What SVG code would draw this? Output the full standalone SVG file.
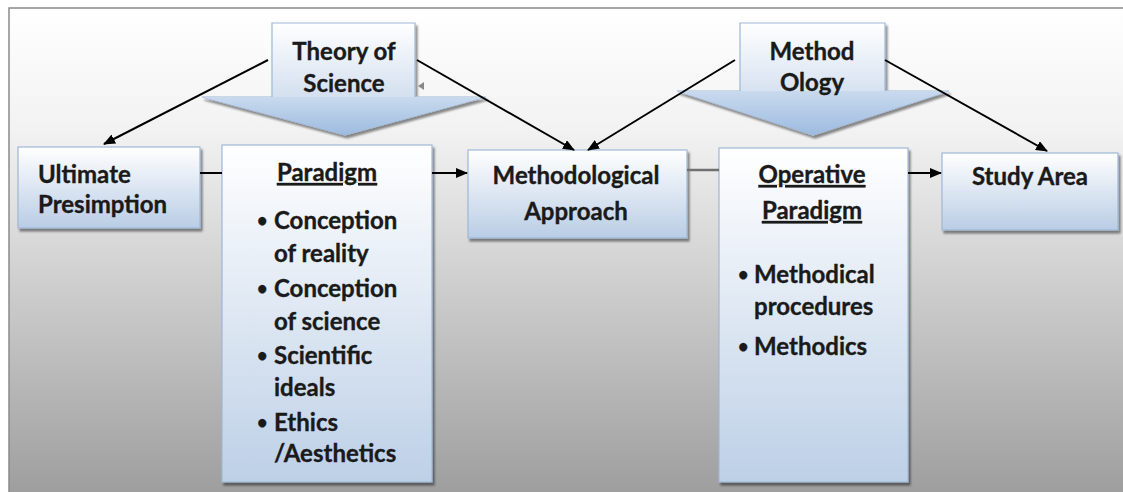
<svg xmlns="http://www.w3.org/2000/svg" width="1123" height="492" viewBox="0 0 1123 492">
<defs>
<linearGradient id="bg" x1="0" y1="0" x2="0" y2="1">
<stop offset="0" stop-color="#ffffff"/>
<stop offset="0.25" stop-color="#f2f2f2"/>
<stop offset="0.6" stop-color="#cacaca"/>
<stop offset="1" stop-color="#9d9d9d"/>
</linearGradient>
<linearGradient id="box" x1="0" y1="0" x2="0" y2="1">
<stop offset="0" stop-color="#ffffff"/>
<stop offset="1" stop-color="#b9cde5"/>
</linearGradient>
<linearGradient id="tall" x1="0" y1="0" x2="0" y2="1">
<stop offset="0" stop-color="#ffffff"/>
<stop offset="1" stop-color="#bdd0e7"/>
</linearGradient>
<linearGradient id="chev" x1="0" y1="0" x2="0" y2="1">
<stop offset="0" stop-color="#c9daee"/>
<stop offset="1" stop-color="#9dbbe0"/>
</linearGradient>
<marker id="ah" markerWidth="12" markerHeight="10" refX="11" refY="5" orient="auto" markerUnits="userSpaceOnUse">
<path d="M0,0 L12,5 L0,10 Z" fill="#000"/>
</marker>
<filter id="sh" x="-10%" y="-10%" width="130%" height="130%">
<feGaussianBlur in="SourceAlpha" stdDeviation="1.2"/>
<feOffset dx="2" dy="3" result="o"/>
<feComponentTransfer><feFuncA type="linear" slope="0.45"/></feComponentTransfer>
<feMerge><feMergeNode/><feMergeNode in="SourceGraphic"/></feMerge>
</filter>
</defs>
<style>
.t{font-family:Lato,"Liberation Sans",sans-serif;font-weight:bold;font-size:24px;fill:#1a1a1a;stroke:#1a1a1a;stroke-width:0.35}
.b{font-size:18px}
.c{text-anchor:middle}
.u{text-decoration:underline}
.bx{stroke:#9fb7d6;stroke-width:1.2;filter:url(#sh)}
.ln{stroke:#000;stroke-width:2;fill:none}
</style>
<rect x="0" y="0" width="1123" height="492" fill="#ffffff"/>
<rect x="9" y="8" width="1130" height="490" fill="url(#bg)" stroke="#8a8a8a" stroke-width="1.5"/>

<g id="theory">
<path d="M272,23 H415 V97 H486 L345,135 L202,97 H272 Z" fill="url(#tall)" stroke="#9fb7d6" stroke-width="1.2" filter="url(#sh)"/>
<path d="M202,97 H486 L345,135 Z" fill="url(#chev)"/>
<path d="M424,82 L418,86 L424,90 Z" fill="#888"/>
<text class="t c" x="344" y="60">Theory of</text>
<text class="t c" x="344" y="92">Science</text>
</g>

<g id="methodology">
<path d="M740,23 H885 V91 H949 L813,135 L677,91 H740 Z" fill="url(#tall)" stroke="#9fb7d6" stroke-width="1.2" filter="url(#sh)"/>
<path d="M677,91 H949 L813,135 Z" fill="url(#chev)"/>
<text class="t c" x="812" y="60">Method</text>
<text class="t c" x="812" y="91">Ology</text>
</g>

<g id="ultimate">
<rect class="bx" x="18" y="147" width="182" height="81" fill="url(#box)"/>
<text class="t" x="38" y="183">Ultimate</text>
<text class="t" x="38" y="213">Presimption</text>
</g>

<g id="paradigm">
<rect class="bx" x="222" y="145" width="210" height="337" fill="url(#tall)"/>
<text class="t c u" x="327" y="181">Paradigm</text>
<g class="t">
<text class="b" x="257" y="227">•</text><text x="274" y="229">Conception</text>
<text x="274" y="262">of reality</text>
<text class="b" x="257" y="295">•</text><text x="274" y="297">Conception</text>
<text x="274" y="330">of science</text>
<text class="b" x="257" y="362">•</text><text x="274" y="364">Scientific</text>
<text x="274" y="396">ideals</text>
<text class="b" x="257" y="429">•</text><text x="274" y="431">Ethics</text>
<text x="274" y="462">/Aesthetics</text>
</g>
</g>

<g id="methodological">
<rect class="bx" x="468" y="150" width="219" height="88" fill="url(#box)"/>
<text class="t c" x="576" y="184">Methodological</text>
<text class="t c" x="576" y="220">Approach</text>
</g>

<g id="operative">
<rect class="bx" x="719" y="148" width="189" height="334" fill="url(#tall)"/>
<text class="t c u" x="812" y="183">Operative</text>
<text class="t c u" x="812" y="219">Paradigm</text>
<g class="t">
<text class="b" x="738" y="281">•</text><text x="754" y="283">Methodical</text>
<text x="754" y="315">procedures</text>
<text class="b" x="738" y="353">•</text><text x="754" y="355">Methodics</text>
</g>
</g>

<g id="studyarea">
<rect class="bx" x="942" y="153" width="176" height="77" fill="url(#box)"/>
<text class="t c" x="1030" y="185">Study Area</text>
</g>

<g id="connectors">
<line class="ln" x1="268" y1="60" x2="104" y2="144" marker-end="url(#ah)"/>
<line class="ln" x1="417" y1="60" x2="574" y2="150" marker-end="url(#ah)"/>
<line class="ln" x1="735" y1="60" x2="588" y2="150" marker-end="url(#ah)"/>
<line class="ln" x1="885" y1="60" x2="1047" y2="151" marker-end="url(#ah)"/>
<line class="ln" x1="200" y1="173" x2="222" y2="173"/>
<line class="ln" x1="432" y1="173" x2="467" y2="173" marker-end="url(#ah)"/>
<line x1="687" y1="170" x2="719" y2="170" stroke="#707070" stroke-width="2.5"/>
<line class="ln" x1="908" y1="173" x2="941" y2="173" marker-end="url(#ah)"/>
</g>
</svg>
